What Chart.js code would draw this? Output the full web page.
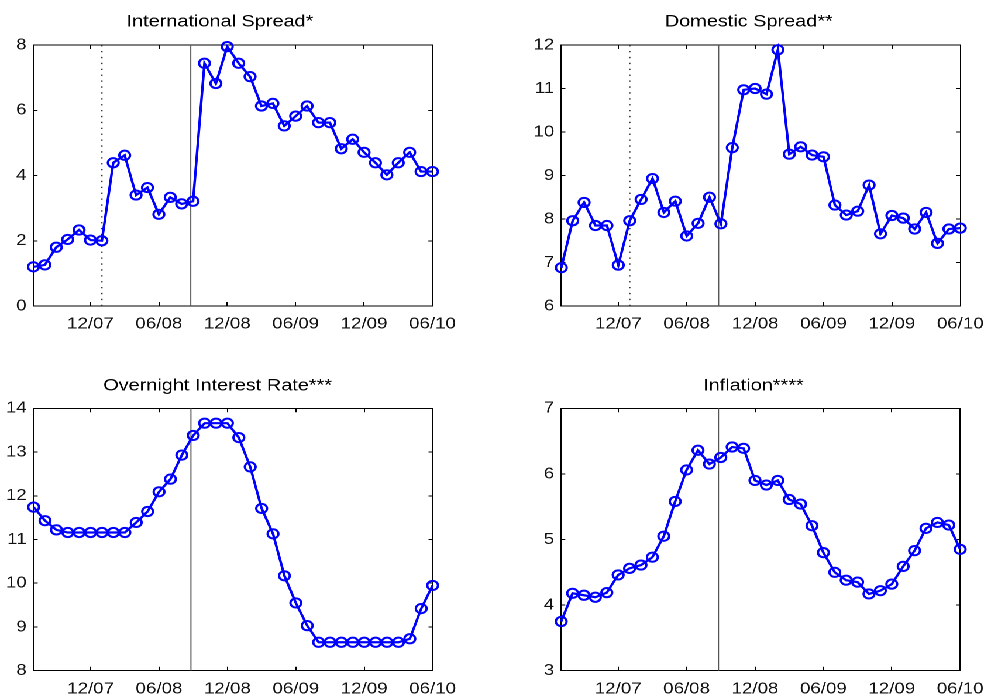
<!DOCTYPE html>
<html>
<head>
<meta charset="utf-8">
<title>Spreads, overnight rate and inflation</title>
<script src="https://cdn.jsdelivr.net/npm/chart.js@4.4.1/dist/chart.umd.min.js"></script>
<style>
  html, body { margin: 0; padding: 0; background: #fff; overflow: hidden; width: 985px; height: 696px; }
  #fig { position: absolute; left: 0; top: 0; width: 841.88px; height: 696px; transform: scaleX(1.17); transform-origin: 0 0; }
  #fig canvas { position: absolute; }
</style>
</head>
<body>
<div id="fig"></div>
<script>
// Monthly observations, 07/07 .. 06/10
const months = [
  '07/07','08/07','09/07','10/07','11/07','12/07',
  '01/08','02/08','03/08','04/08','05/08','06/08',
  '07/08','08/08','09/08','10/08','11/08','12/08',
  '01/09','02/09','03/09','04/09','05/09','06/09',
  '07/09','08/09','09/09','10/09','11/09','12/09',
  '01/10','02/10','03/10','04/10','05/10','06/10'
];
const tickLabels = ['12/07','06/08','12/08','06/09','12/09','06/10'];

const intlSpread = [1.20,1.26,1.80,2.04,2.33,2.02,2.00,4.39,4.62,3.40,3.63,2.81,
                    3.33,3.13,3.21,7.44,6.82,7.95,7.44,7.03,6.13,6.21,5.52,5.82,
                    6.13,5.62,5.62,4.82,5.11,4.71,4.39,4.02,4.39,4.71,4.12,4.12];
const domSpread  = [6.88,7.96,8.38,7.85,7.85,6.94,7.96,8.45,8.93,8.15,8.41,7.61,
                    7.90,8.50,7.89,9.64,10.97,11.00,10.87,11.89,9.49,9.66,9.47,9.43,
                    8.32,8.09,8.18,8.78,7.66,8.08,8.02,7.77,8.15,7.44,7.77,7.79];
const overnight  = [11.74,11.43,11.22,11.16,11.16,11.16,11.16,11.16,11.16,11.39,11.64,12.09,
                    12.38,12.93,13.38,13.66,13.66,13.66,13.33,12.66,11.71,11.13,10.17,9.55,
                    9.03,8.65,8.65,8.65,8.65,8.65,8.65,8.65,8.65,8.73,9.42,9.95];
const inflation  = [3.75,4.18,4.15,4.12,4.19,4.46,4.56,4.61,4.73,5.05,5.58,6.06,
                    6.36,6.15,6.25,6.41,6.39,5.90,5.83,5.90,5.61,5.54,5.21,4.80,
                    4.50,4.38,4.35,4.17,4.22,4.32,4.59,4.83,5.17,5.26,5.22,4.85];

// Event markers, in months since 07/07
const eventSolid = 13.8;
const eventDotted = 6;

// Page layout (pixels in the final figure); x is divided by the stretch factor
const S = 1.17;
const FONT = '"Liberation Sans", Arial, Helvetica, sans-serif';
const panels = [
  { title: 'International Spread*',     values: intlSpread, yMin: 0, yMax: 8,  step: 2, dotted: true,
    titleX: 220.5, titleY: 21.6,  top: 0,   plotTop: 45,    plotBottom: 306,   plotLeft: 34,  plotRight: 433 },
  { title: 'Domestic Spread**',         values: domSpread,  yMin: 6, yMax: 12, step: 1, dotted: true,
    titleX: 748.5, titleY: 21.8,  top: 0,   plotTop: 45,    plotBottom: 306,   plotLeft: 561, plotRight: 960 },
  { title: 'Overnight Interest Rate***', values: overnight, yMin: 8, yMax: 14, step: 1, dotted: false,
    titleX: 218,   titleY: 385.8, top: 348, plotTop: 408.3, plotBottom: 670.7, plotLeft: 34,  plotRight: 433 },
  { title: 'Inflation****',             values: inflation,  yMin: 3, yMax: 7,  step: 1, dotted: false,
    titleX: 753.3, titleY: 385.8, top: 348, plotTop: 408.3, plotBottom: 670.7, plotLeft: 561, plotRight: 960 }
];

const tickIdx = tickLabels.map(l => months.indexOf(l));
const fig = document.getElementById('fig');

function vline(x, p, color, width, dash) {
  return {
    data: [{ x: x, y: p.yMin }, { x: x, y: p.yMax }],
    borderColor: color, borderWidth: width, borderDash: dash || [],
    pointRadius: 0, xAxisID: 'x', yAxisID: 'y', order: 1, clip: false
  };
}

function makePanel(p) {
  const H = 240, height = 348;
  const cx = p.titleX / S;
  const left = cx - H, width = 2 * H;
  const canvas = document.createElement('canvas');
  canvas.width = width; canvas.height = height;
  canvas.style.left = left + 'px';
  canvas.style.top = p.top + 'px';
  fig.appendChild(canvas);

  // the axes take the side space so the title stays centred on the canvas
  const yW = p.plotLeft / S - left;
  const padR = left + width - p.plotRight / S;
  const lh = 17 * 1.2;
  const tTop = p.titleY - p.top - lh / 2;
  const tBottom = p.plotTop - p.top - tTop - lh;
  const xH = p.top + height - p.plotBottom;

  const tickGrid = (len) => ({ display: true, drawOnChartArea: false, drawTicks: true, tickLength: len, color: '#000', lineWidth: 1 });
  const frame = { display: true, color: '#000', width: 1 };
  const setXTicks = s => { s.ticks = tickIdx.map(v => ({ value: v })); };

  const datasets = [{
    data: p.values.map((v, i) => ({ x: i, y: v })),
    borderColor: '#0000ff', borderWidth: 2.2,
    pointStyle: 'circle', pointRadius: 4.6, pointBorderWidth: 2,
    pointBorderColor: '#0000ff', pointBackgroundColor: 'rgba(0,0,0,0)',
    tension: 0, xAxisID: 'x', yAxisID: 'y', order: 0, clip: false
  }, vline(eventSolid, p, '#555555', 1)];
  if (p.dotted) datasets.push(vline(eventDotted, p, '#333333', 1.3, [1.3, 4.6]));

  new Chart(canvas, {
    type: 'line',
    data: { datasets },
    options: {
      responsive: false,
      animation: false,
      devicePixelRatio: 2,
      layout: { padding: 0 },
      plugins: {
        legend: { display: false },
        tooltip: { enabled: false },
        title: {
          display: true, text: p.title, color: '#000', align: 'center', fullSize: true,
          font: { family: FONT, size: 17, weight: 'normal', lineHeight: 1.2 },
          padding: { top: tTop, bottom: tBottom }
        }
      },
      scales: {
        x: {
          type: 'linear', position: 'bottom', min: 0, max: months.length - 1,
          afterBuildTicks: setXTicks,
          afterFit: s => { s.height = xH; },
          grid: tickGrid(-4), border: frame,
          ticks: { padding: 12.7, color: '#111', font: { family: FONT, size: 16 }, maxRotation: 0, autoSkip: false,
                   callback: v => months[v] }
        },
        xTop: {
          type: 'linear', position: 'top', min: 0, max: months.length - 1,
          afterBuildTicks: setXTicks,
          afterFit: s => { s.height = 0; },
          grid: tickGrid(-4), border: frame,
          ticks: { display: false }
        },
        y: {
          type: 'linear', position: 'left', min: p.yMin, max: p.yMax,
          afterFit: s => { s.width = yW; },
          grid: tickGrid(-3.5), border: frame,
          ticks: { stepSize: p.step, padding: 9.5, color: '#111', font: { family: FONT, size: 16 } }
        },
        yRight: {
          type: 'linear', position: 'right', min: p.yMin, max: p.yMax,
          afterFit: s => { s.width = padR; },
          grid: tickGrid(-3.5), border: frame,
          ticks: { stepSize: p.step, display: false }
        }
      }
    }
  });
}

panels.forEach(makePanel);
</script>
</body>
</html>
